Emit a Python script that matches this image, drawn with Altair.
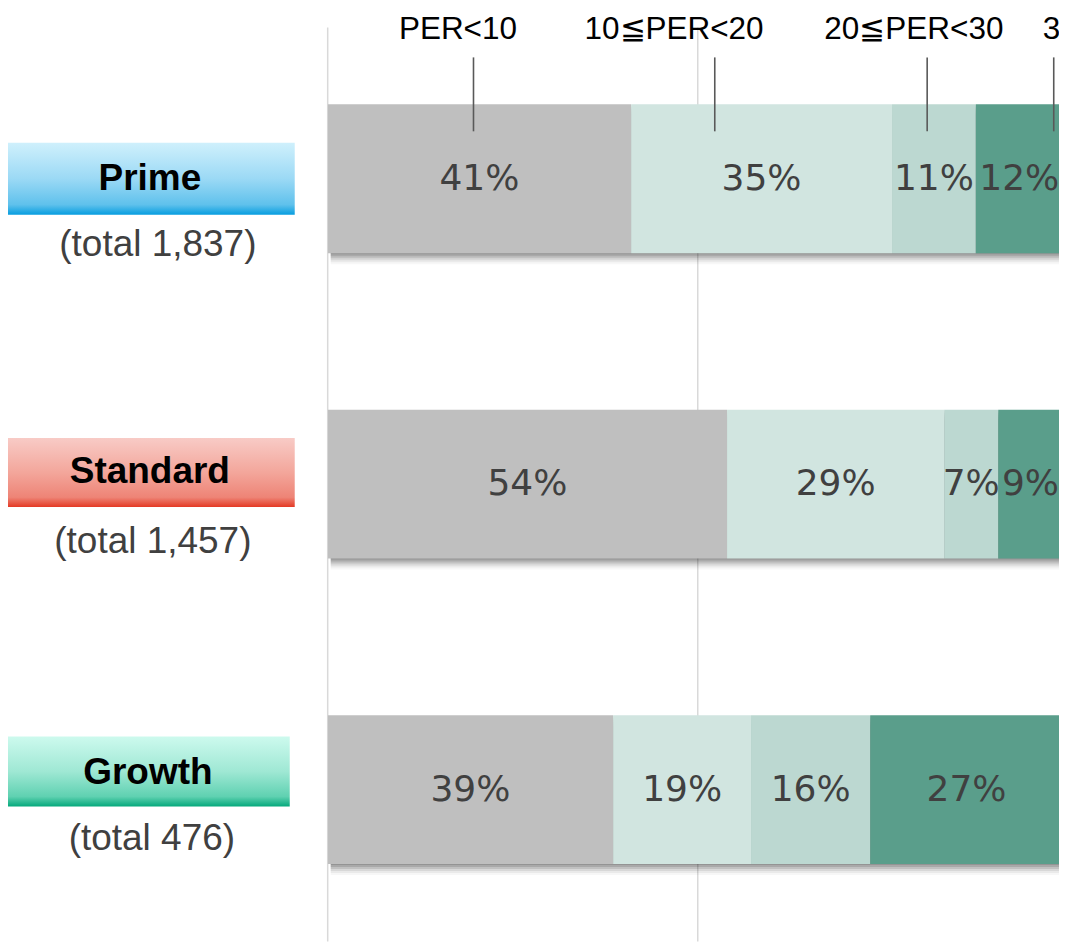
import altair as alt
import pandas as pd

# ---------------- data ----------------
markets = ["Prime", "Standard", "Growth"]
totals = ["(total 1,837)", "(total 1,457)", "(total 476)"]
segments = ["PER<10", "10≦PER<20", "20≦PER<30", "30≦PER"]
seg_colors = ["#bfbfbf", "#d1e5e0", "#bcd8d1", "#5a9e8b"]
prime_share = [41.0, 35.25, 11.32, 12.43]
standard_share = [53.96, 29.34, 7.30, 9.40]
growth_share = [38.57, 18.63, 16.10, 26.70]
label_anchor = [19.7, 52.3, 81.0, 98.1]     # where annotation lines point (x, %)
label_text_x = [17.6, 46.8, 79.2, 96.6]     # label positions (x, %)
gridlines = [0, 50]

# ---------------- tables ----------------
rows = []
shadow_rows = []
for m, shares in zip(markets, [prime_share, standard_share, growth_share]):
    start = 0.0
    for i, (s, v) in enumerate(zip(segments, shares)):
        rows.append(dict(market=m, segment=s, idx=i, start=start, end=start + v,
                         mid=start + v / 2, label=f"{round(v)}%"))
        start += v
    shadow_rows.append(dict(market=m, start=0.0, end=start))
df = pd.DataFrame(rows)
shadow_df = pd.DataFrame(shadow_rows)
left_df = pd.DataFrame({"market": markets, "total": totals})
grid_df = pd.DataFrame({"x": gridlines})
lab_df = pd.DataFrame({"segment": segments, "anchor": label_anchor, "tx": label_text_x})

# ---------------- layout ----------------
H = 934
RW = 732                       # visible plot width (the reference is cropped on the right)
PX_PER_PCT = 7.408
yscale = alt.Scale(domain=markets, paddingInner=0.5126, paddingOuter=0.284, align=0.553)
xscale = alt.Scale(domain=[0, RW / PX_PER_PCT], nice=False, zero=False)
Y = alt.Y("market:N", scale=yscale, axis=None)

# right panel
grid = alt.Chart(grid_df).mark_rule(color="#d9d9d9", strokeWidth=1.5).encode(
    x=alt.X("x:Q", scale=xscale, axis=None), y=alt.value(19), y2=alt.value(H))

shadows = [
    alt.Chart(shadow_df).mark_bar(color="#000000", opacity=op, yOffset=k, xOffset=3, clip=True).encode(
        x=alt.X("start:Q", scale=xscale, axis=None), x2="end:Q", y=Y)
    for k, op in [(1, 0.12), (3, 0.12), (5, 0.10), (7, 0.08), (9, 0.05), (11, 0.03)]
]

bars = alt.Chart(df).mark_bar(clip=True).encode(
    x=alt.X("start:Q", scale=xscale, axis=None), x2="end:Q", y=Y,
    color=alt.Color("segment:N", scale=alt.Scale(domain=segments, range=seg_colors), legend=None),
)

pct_inner = alt.Chart(df).transform_filter(alt.datum.idx < 3).mark_text(
    font="DejaVu Sans", fontSize=36, color="#404040", clip=True).encode(
    x=alt.X("mid:Q", scale=xscale, axis=None), y=Y, text="label:N")
pct_last = alt.Chart(df).transform_filter(alt.datum.idx == 3).mark_text(
    font="DejaVu Sans", fontSize=36, color="#404040", clip=True, dx=-2.5).encode(
    x=alt.X("mid:Q", scale=xscale, axis=None), y=Y, text="label:N")

ann = alt.Chart(lab_df).mark_rule(color="#595959", strokeWidth=1.6).encode(
    x=alt.X("anchor:Q", scale=xscale, axis=None), y=alt.value(49), y2=alt.value(123))

top_c = alt.Chart(lab_df).transform_filter(alt.datum.segment != "30≦PER").mark_text(
    font="Liberation Sans", fontSize=31.5, color="#000000", align="center").encode(
    x=alt.X("tx:Q", scale=xscale, axis=None), y=alt.value(22), text="segment:N")
top_l = alt.Chart(lab_df).transform_filter(alt.datum.segment == "30≦PER").mark_text(
    font="Liberation Sans", fontSize=31.5, color="#000000", align="left", clip=True).encode(
    x=alt.X("tx:Q", scale=xscale, axis=None), y=alt.value(22), text="segment:N")

right = alt.layer(grid, *shadows, bars, pct_inner, pct_last, ann, top_c, top_l).properties(
    width=RW, height=H)

# left panel
grads = {
    "Prime": ["#cff0fc", "#9bd9f5", "#5fc1ec", "#079ddf"],
    "Standard": ["#f8cbc6", "#f3a69b", "#ee8476", "#e43a25"],
    "Growth": ["#cdfaee", "#9fe8d4", "#5fd1b1", "#06a97c"],
}
box_h = {"Prime": 72, "Standard": 69, "Growth": 70}
box_dy = {"Prime": 0, "Standard": -11.7, "Growth": -18.2}
box_x2 = {"Prime": 287, "Standard": 287, "Growth": 282}
name_dy = {"Prime": 0.5, "Standard": -11.7, "Growth": -16.6}
name_x = {"Prime": 142, "Standard": 142, "Growth": 140}
tot_dy = {"Prime": 66, "Standard": 58, "Growth": 49}
tot_x = {"Prime": 150, "Standard": 145, "Growth": 144}

left_layers = []
for m in markets:
    c = grads[m]
    g = alt.Gradient(gradient="linear", x1=0, x2=0, y1=0, y2=1, stops=[
        alt.GradientStop(color=c[0], offset=0),
        alt.GradientStop(color=c[1], offset=0.5),
        alt.GradientStop(color=c[2], offset=0.86),
        alt.GradientStop(color=c[3], offset=1),
    ])
    base = alt.Chart(left_df).transform_filter(alt.datum.market == m)
    left_layers.append(base.mark_bar(color=g, size=box_h[m], yOffset=box_dy[m]).encode(
        y=Y, x=alt.value(0), x2=alt.value(box_x2[m])))
    left_layers.append(base.mark_text(font="Liberation Sans", fontWeight="bold", fontSize=37,
                                      color="#000000", yOffset=name_dy[m]).encode(
        y=Y, x=alt.value(name_x[m]), text="market:N"))
    left_layers.append(base.mark_text(font="Liberation Sans", fontSize=37,
                                      color="#404040", yOffset=tot_dy[m]).encode(
        y=Y, x=alt.value(tot_x[m]), text="total:N"))

left = alt.layer(*left_layers).properties(width=319, height=H)

chart = alt.hconcat(left, right, spacing=0).properties(padding=0).configure_view(stroke=None)

chart.save("out.html", embed_options={"renderer": "svg", "actions": False})
